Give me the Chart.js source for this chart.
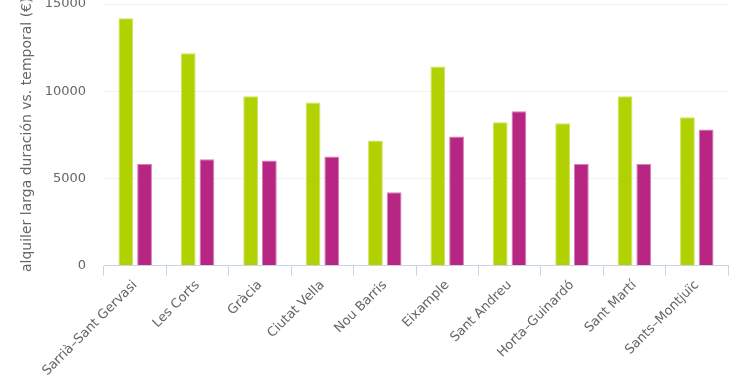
<!DOCTYPE html>
<html>
<head>
<meta charset="utf-8">
<script src="https://cdn.jsdelivr.net/npm/chart.js@4/dist/chart.umd.min.js"></script>
<style>
  html, body { margin: 0; padding: 0; background: #fff; }
  #wrap { width: 740px; height: 389px; }
</style>
</head>
<body>
<div id="wrap"><canvas id="rentChart"></canvas></div>
<script>
var districts = ["Sarrià–Sant Gervasi", "Les Corts", "Gràcia", "Ciutat Vella", "Nou Barris",
	"Eixample", "Sant Andreu", "Horta–Guinardó", "Sant Martí", "Sants–Montjuïc"];
var largaDuracion = [14180, 12180, 9710, 9350, 7170, 11420, 8220, 8160, 9710, 8510];
var temporal = [5820, 6090, 6030, 6250, 4200, 7400, 8850, 5820, 5820, 7800];
var yTicks = [0, 5000, 10000, 15000];

var ctx = document.getElementById("rentChart");
var rentChart = new Chart(ctx, {
	type: "bar",
	data: {
		labels: districts,
		datasets: [
			{
				label: "larga duración",
				data: largaDuracion,
				backgroundColor: "#b2d100",
				borderColor: "#cfe36a",
				borderWidth: 1,
			},
			{
				label: "temporal",
				data: temporal,
				backgroundColor: "#b82683",
				borderColor: "#d57fb6",
				borderWidth: 1,
			},
		],
	},
	options: {
		responsive: true,
		maintainAspectRatio: false,
		animation: false,
		categoryPercentage: 0.6,
		barPercentage: 0.79,
		layout: { padding: { left: 19, right: 12, top: 4, bottom: 8 } },
		plugins: {
			legend: { display: false },
			tooltip: { enabled: false },
		},
		scales: {
			x: {
				afterFit: function (scale) {
					scale.paddingLeft = 0;
					scale.paddingRight = 0;
				},
				grid: {
					offset: true,
					drawOnChartArea: false,
					color: "#c5d5e6",
					tickLength: 10,
				},
				border: { color: "#c5d5e6", width: 1 },
				ticks: {
					color: "#666",
					font: { family: "'DejaVu Sans', sans-serif", size: 13 },
					minRotation: 45,
					maxRotation: 45,
					padding: 2,
				},
			},
			y: {
				min: 0,
				max: 15000,
				afterBuildTicks: function (axis) {
					axis.ticks = yTicks.map(function (v) { return { value: v }; });
				},
				afterFit: function (scale) {
					scale.paddingTop = 0;
					scale.paddingBottom = 0;
					scale.width = 85;
				},
				grid: { color: "#f2f2f2", drawTicks: false },
				border: { display: false },
				ticks: {
					color: "#666",
					font: { family: "'DejaVu Sans', sans-serif", size: 13 },
					padding: 18,
					callback: function (value) { return String(value); },
				},
				title: {
					display: true,
					text: "alquiler larga duración vs. temporal (€)",
					color: "#666",
					font: { family: "'DejaVu Sans', sans-serif", size: 14 },
					padding: { top: 0, bottom: 10 },
				},
			},
		},
	},
});
</script>
</body>
</html>
